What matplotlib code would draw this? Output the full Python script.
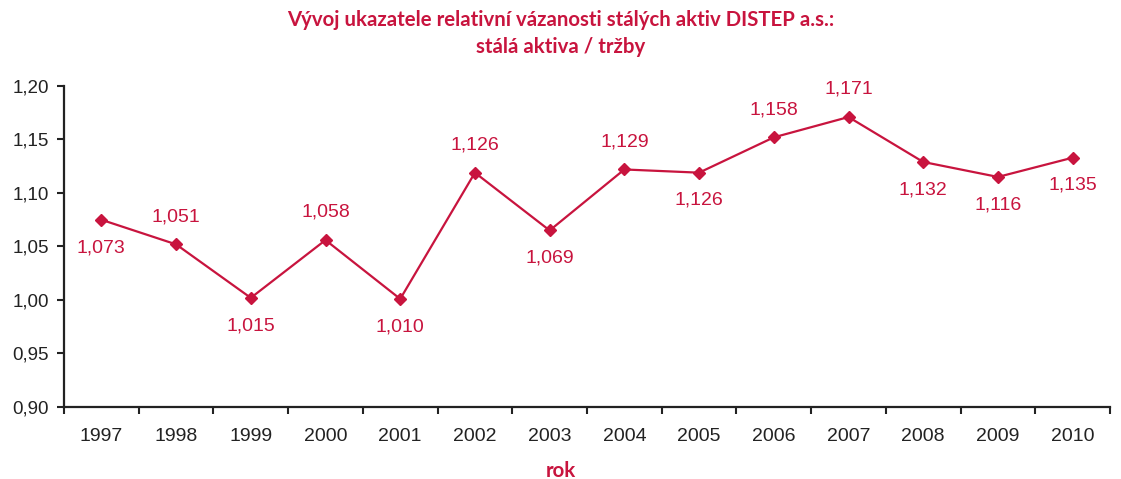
import numpy as np
import matplotlib.pyplot as plt
from matplotlib.ticker import FixedLocator, FuncFormatter

years = ['1997', '1998', '1999', '2000', '2001', '2002', '2003',
         '2004', '2005', '2006', '2007', '2008', '2009', '2010']
# plotted positions and the printed data labels
values = [1.075, 1.052, 1.002, 1.056, 1.001, 1.119, 1.065,
          1.122, 1.119, 1.152, 1.171, 1.129, 1.115, 1.133]
labels = ['1,073', '1,051', '1,015', '1,058', '1,010', '1,126', '1,069',
          '1,129', '1,126', '1,158', '1,171', '1,132', '1,116', '1,135']
label_side = [-1, 1, -1, 1, -1, 1, -1, 1, -1, 1, 1, -1, -1, -1]

red = '#C8143E'
plt.rcParams['font.family'] = 'sans-serif'
plt.rcParams['font.sans-serif'] = ['Liberation Sans']

fig = plt.figure(figsize=(11.21, 4.79), dpi=100)
ax = fig.add_axes([64 / 1121, 1 - 407 / 479, (1110 - 64) / 1121, (407 - 86) / 479])

x = np.arange(len(years))
ax.plot(x, values, color=red, lw=1.6, marker='D', markersize=6.5, zorder=3)

for xi, v, lab, s in zip(x, values, labels, label_side):
    ax.annotate(lab, (xi, v), xytext=(0, 20 * s), textcoords='offset points',
                ha='center', va='center', color=red, fontsize=14)

ax.set_xlim(-0.5, len(years) - 0.5)
ax.set_ylim(0.90, 1.20)
ax.set_yticks(np.arange(0.90, 1.201, 0.05))
ax.yaxis.set_major_formatter(FuncFormatter(lambda v, p: f'{v:.2f}'.replace('.', ',')))

ax.set_xticks(x)
ax.set_xticklabels(years)
ax.xaxis.set_minor_locator(FixedLocator(np.arange(-0.5, len(years), 1.0)))
ax.tick_params(axis='x', which='major', length=0, pad=15, labelsize=14, colors='#222222')
ax.tick_params(axis='x', which='minor', length=5, width=1.5, direction='out', color='#222222')
ax.tick_params(axis='y', length=5, width=1.5, labelsize=13.5, pad=6, colors='#222222')

for side in ['top', 'right']:
    ax.spines[side].set_visible(False)
for side in ['left', 'bottom']:
    ax.spines[side].set_linewidth(1.6)
    ax.spines[side].set_color('#222222')

fig.text(0.5, 1 - 20 / 479, 'Vývoj ukazatele relativní vázanosti stálých aktiv DISTEP a.s.:',
         ha='center', va='center', color=red, fontsize=14.7, fontweight='bold', family='Lato')
fig.text(0.5, 1 - 47 / 479, 'stálá aktiva / tržby',
         ha='center', va='center', color=red, fontsize=14.7, fontweight='bold', family='Lato')
fig.text(0.5, 1 - 471 / 479, 'rok', ha='center', va='center', color=red,
         fontsize=14.7, fontweight='bold', family='Lato')

fig.savefig('out.png', dpi=100)
